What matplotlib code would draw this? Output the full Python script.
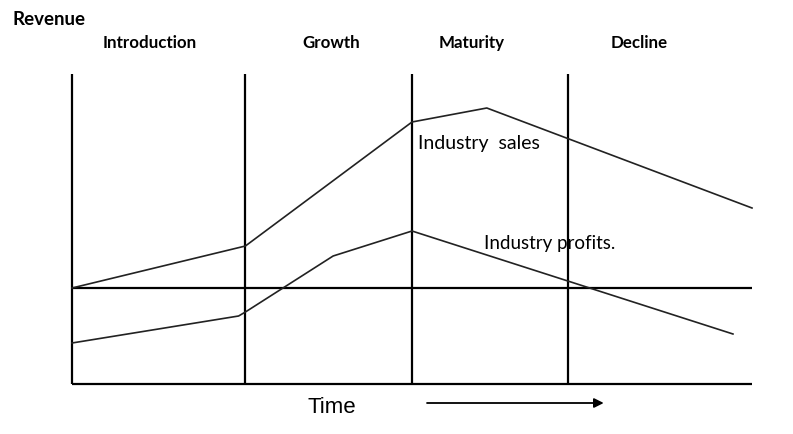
# -*- coding: utf-8 -*-
"""Industry life cycle: sales and profits over time."""

import matplotlib
matplotlib.use("Agg")
from matplotlib import pyplot as plt

# stage boundaries along the time axis (0 .. 100)
stage_edges = [0, 25.5, 50, 73]
stage_names = ["Introduction", "Growth", "Maturity", "Decline"]
stage_label_x = [11.5, 38.1, 58.8, 83.4]
time_end = 100

# revenue curves (0 = break-even line)
sales_t = [0, 25.5, 50, 61, 100]
sales_v = [0, 4.2, 16.6, 18.0, 8.0]
profit_t = [0, 24.5, 25.5, 38.4, 50, 97.2]
profit_v = [-5.5, -2.8, -2.4, 3.2, 5.7, -4.6]

y_bottom = -9.6
y_top = 21.4

fig = plt.figure(figsize=(7.93, 4.35), dpi=100)
ax = fig.add_axes([0, 0, 1, 1])
ax.set_xlim(-72 / 6.8, (793 - 72) / 6.8)
ax.set_ylim(-14.6, 28.9)
ax.axis("off")

k = dict(color="black", lw=1.6, solid_capstyle="butt")
# frame: left axis, bottom axis, zero line, stage dividers
ax.plot([0, 0], [y_bottom, y_top], **k)
ax.plot([0, time_end], [y_bottom, y_bottom], **k)
ax.plot([0, time_end], [0, 0], **k)
for x in stage_edges[1:]:
    ax.plot([x, x], [y_bottom, y_top], **k)

# curves
ax.plot(sales_t, sales_v, color="#222222", lw=1.2)
ax.plot(profit_t, profit_v, color="#222222", lw=1.2)

hf = ["Lato", "DejaVu Sans"]
ax.text(-8.8, 27.0, "Revenue", family=hf, fontweight="bold", fontsize=13.5,
        ha="left", va="center")
for name, x in zip(stage_names, stage_label_x):
    ax.text(x, 24.6, name, family=hf, fontweight="bold", fontsize=12.2,
            ha="center", va="center")

ax.text(50.9, 14.6, "Industry  sales", family=hf, fontsize=14,
        ha="left", va="center")
ax.text(60.6, 4.5, "Industry profits.", family=hf, fontsize=13.5,
        ha="left", va="center")

ax.text(38.2, -11.9, "Time", family=["Liberation Sans", "DejaVu Sans"],
        fontsize=16, ha="center", va="center")
ax.annotate("", xy=(78.6, -11.5), xytext=(51.8, -11.5),
            arrowprops=dict(arrowstyle="-|>", color="black", lw=1.3,
                            mutation_scale=14))

fig.savefig("out.png", dpi=100)
